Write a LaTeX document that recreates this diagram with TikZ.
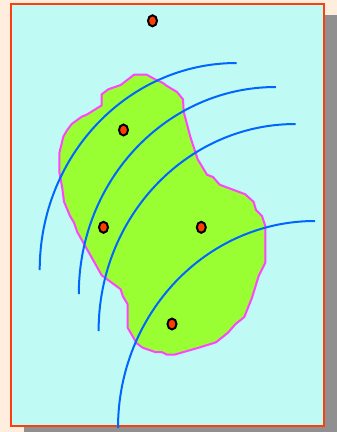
\documentclass[tikz,border=0pt]{standalone}
\usetikzlibrary{shapes.geometric}
\definecolor{pagebg}{HTML}{FFEEDD}
\definecolor{shadowc}{HTML}{909090}
\definecolor{panel}{HTML}{BFFBF4}
\definecolor{framec}{HTML}{FF3D0D}
\definecolor{blobfill}{HTML}{99FF33}
\definecolor{blobline}{HTML}{FF44FF}
\definecolor{arcline}{HTML}{0066FF}
\definecolor{dotfill}{HTML}{FF3D00}
\tikzset{
  dotnode/.style={shape=ellipse,draw=black,fill=dotfill,line width=2pt,minimum width=9pt,minimum height=11pt,inner sep=0pt},
  arcpath/.style={draw=arcline,line width=2pt},
  blobpath/.style={draw=blobline,fill=blobfill,line width=2pt,line join=round}
}
\newcommand{\quarterarc}[2]{% start x, start y: width 197, height 207
  \draw[arcpath] (#1,#2) .. controls (#1,#2-114.3) and (#1+88.2,#2-207) .. (#1+197,#2-207);}
\begin{document}
\begin{tikzpicture}[x=1pt,y=-1pt]
\useasboundingbox (0,0) rectangle (337,432);
\fill[pagebg] (0,0) rectangle (337,432);
\fill[shadowc] (24,15) rectangle (337,432);
\draw[draw=framec,fill=panel,line width=2.2pt] (11,4) rectangle (323.7,426);
\draw[blobpath] (134,74.7) -- (146.7,74.7) -- (155,79.3) -- (163,83) -- (167,86) -- (177,92) -- (183,99.3) -- (183.7,111.7) -- (190.3,136.7) -- (197.7,159.3) -- (207,174.7) -- (213,177) -- (219.7,184.7) -- (245.3,194.3) -- (253.7,202) -- (256,210) -- (262,216) -- (265.3,226) -- (265.3,262.7) -- (258.7,276) -- (252,297.7) -- (244.3,317) -- (235.3,324.3) -- (228,332.7) -- (216,342.3) -- (198.7,347.7) -- (174.3,354.7) -- (167,354.7) -- (161.7,352) -- (155,352) -- (142.7,347.7) -- (136.7,343.3) -- (127.7,327.7) -- (127.7,304.3) -- (122.7,296) -- (120.7,289.3) -- (101.7,275.3) -- (77.3,232) -- (74,222.7) -- (70,216) -- (64,201.7) -- (62.3,188.3) -- (59.3,171.7) -- (59.3,153.3) -- (63.3,136.7) -- (66.7,130.7) -- (71.7,124) -- (81.7,116.7) -- (87,114.5) -- (101.7,105.3) -- (101.7,94.3) -- (108.3,89.3) -- (120.7,85) -- cycle;
\quarterarc{39.7}{270}
\quarterarc{78.8}{294}
\quarterarc{98.6}{331}
\quarterarc{118}{428}
\node[dotnode] (d1) at (152.5,20.8) {};
\node[dotnode] (d2) at (123.5,130) {};
\node[dotnode] (d3) at (103.5,227.3) {};
\node[dotnode] (d4) at (201.3,227.3) {};
\node[dotnode] (d5) at (172,324) {};
\end{tikzpicture}
\end{document}
